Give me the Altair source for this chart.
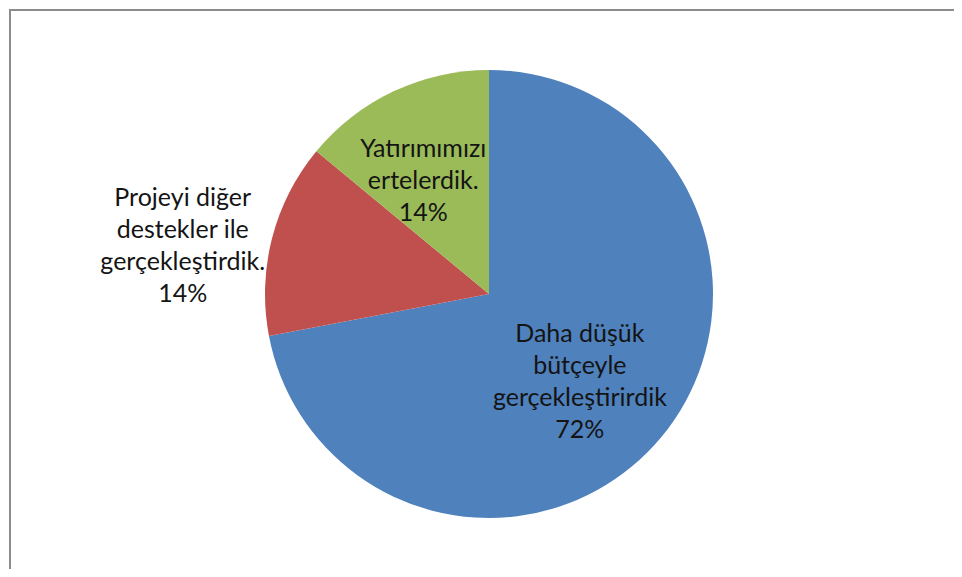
import altair as alt
import pandas as pd

categories = [
    "Daha düşük bütçeyle gerçekleştirirdik",
    "Projeyi diğer destekler ile gerçekleştirdik.",
    "Yatırımımızı ertelerdik.",
]
values = [72, 14, 14]
label_text = [
    "Daha düşük\nbütçeyle\ngerçekleştirirdik",
    "Projeyi diğer\ndestekler ile\ngerçekleştirdik.",
    "Yatırımımızı\nertelerdik.",
]
colors = ["#4F81BD", "#C0504D", "#9BBB59"]
order = [0, 1, 2]

df = pd.DataFrame({"cat": categories, "value": values, "label": label_text, "ord": order})
total = sum(values)

W, H = 946, 561
CX, CY = 480, 285
R = 224

theta_scale = alt.Scale(domain=[0, total], zero=True, nice=False)

base = (
    alt.Chart(df)
    .transform_stack(stack="value", as_=["v0", "v1"], groupby=[], sort=[alt.SortField("ord", order="ascending")])
    .transform_calculate(mid="(datum.v0 + datum.v1) / 2", txt="datum.label + '\\n' + datum.value + '%'")
)

arcs = base.mark_arc(radius=R).encode(
    theta=alt.Theta("v0:Q", stack=False, scale=theta_scale),
    theta2="v1:Q",
    color=alt.Color("cat:N", scale=alt.Scale(domain=categories, range=colors), legend=None),
    x=alt.value(CX),
    y=alt.value(CY),
)

font = "Lato"
fs = 25
lh = 32

def lbl(i, r, dx, dy):
    return base.transform_filter(alt.datum.ord == order[i]).mark_text(
        font=font, fontSize=fs, lineHeight=lh, lineBreak="\n", color="#141414",
        align="center", baseline="middle", dx=dx, dy=dy,
    ).encode(
        theta=alt.Theta("mid:Q", stack=False, scale=theta_scale),
        radius=alt.value(r),
        text="txt:N",
        x=alt.value(CX),
        y=alt.value(CY),
    )

labels = [lbl(0, 127, -7, -41), lbl(1, 310, -6, -19), lbl(2, 131, -10, -26)]

border_left = alt.Chart(df).mark_rule(color="#8c8c8c", strokeWidth=2).encode(
    x=alt.value(1), y=alt.value(0), y2=alt.value(H)
)
border_top = alt.Chart(df).mark_rule(color="#8c8c8c", strokeWidth=2).encode(
    y=alt.value(1), x=alt.value(0), x2=alt.value(W)
)

chart = alt.layer(arcs, *labels, border_left, border_top).properties(
    width=W, height=H, padding=0,
    autosize=alt.AutoSizeParams(type="fit", contains="padding"),
).configure_view(stroke=None)

chart.save("out.html", embed_options={"renderer": "svg", "actions": False})
